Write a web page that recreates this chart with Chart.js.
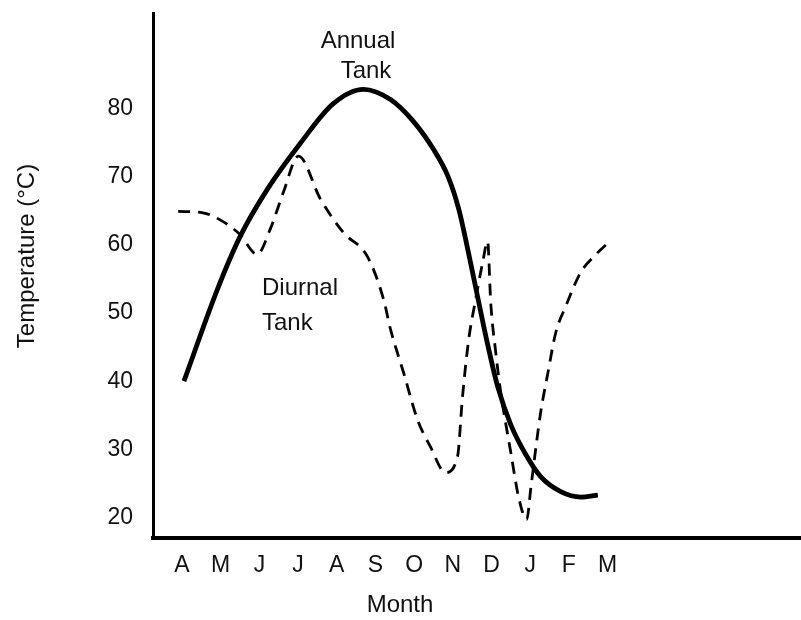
<!DOCTYPE html>
<html>
<head>
<meta charset="utf-8">
<script src="https://cdn.jsdelivr.net/npm/chart.js@4"></script>
<style>
  html, body { margin: 0; padding: 0; background: #fff; }
  #wrap { width: 801px; height: 620px; position: relative; }
</style>
</head>
<body>
<div id="wrap"><canvas id="tank-chart"></canvas></div>
<script>
// Month letters, April through March
const monthLabels = ['A', 'M', 'J', 'J', 'A', 'S', 'O', 'N', 'D', 'J', 'F', 'M'];
const tempTicks = [20, 30, 40, 50, 60, 70, 80];

// Annual tank temperature (month index, deg C)
const annualMonth = [0.05, 0.91, 1.5, 2.2, 3.06, 3.91, 4.69, 5.39, 5.98, 6.5, 6.87, 7.15,
    7.41, 7.64, 7.9, 8.16, 8.5, 8.89, 9.27, 9.79, 10.31, 10.75];
const annualTemp = [40.0, 53.4, 61.2, 68.1, 74.9, 80.7, 82.8, 81.3, 78.1, 74.0, 70.1, 65.3,
    58.7, 52.4, 45.4, 39.2, 33.6, 29.2, 26.0, 23.8, 23.0, 23.3];

// Diurnal tank temperature (month index, deg C)
const diurnalMonth = [-0.1, 0.54, 1.06, 1.5, 1.94, 2.28, 2.62, 3.01, 3.58, 4.17, 4.79, 5.21,
    5.39, 5.73, 6.09, 6.42, 6.81, 7.12, 7.25, 7.41, 7.59, 7.77, 7.9, 7.98, 8.11, 8.24, 8.5,
    8.7, 8.91, 9.02, 9.15, 9.27, 9.46, 9.66, 9.92, 10.31, 10.65, 11.01];
const diurnalTemp = [64.9, 64.7, 63.4, 61.5, 58.6, 62.3, 67.7, 73.0, 66.7, 61.8, 58.3, 52.0,
    47.6, 41.2, 34.3, 30.4, 26.6, 28.9, 37.7, 46.1, 52.0, 57.4, 60.5, 51.5, 44.2, 38.3, 29.5,
    23.0, 19.7, 24.5, 30.4, 35.4, 41.3, 47.1, 51.0, 56.0, 58.3, 60.3];

const FONT_FAMILY = '"Liberation Sans", Arial, Helvetica, sans-serif';
const INK = '#111';

function toPoints(xs, ys) {
    return xs.map((x, i) => ({ x: x, y: ys[i] }));
}

// Curve labels and axis titles, drawn straight onto the canvas
const tankLabels = {
    id: 'tankLabels',
    afterDraw(chart) {
        const ctx = chart.ctx;
        ctx.save();
        ctx.font = '24px ' + FONT_FAMILY;
        ctx.fillStyle = INK;
        ctx.textBaseline = 'middle';
        ctx.textAlign = 'center';
        ctx.fillText('Annual', 358, 41);
        ctx.fillText('Tank', 366, 71);
        ctx.fillText('Month', 400, 605);
        ctx.textAlign = 'left';
        ctx.fillText('Diurnal', 262, 288);
        ctx.fillText('Tank', 262, 323);

        ctx.translate(27, 256);
        ctx.rotate(-Math.PI / 2);
        ctx.textAlign = 'center';
        ctx.fillText('Temperature (°C)', 0, 0);
        ctx.restore();
    }
};

new Chart(document.getElementById('tank-chart').getContext('2d'), {
    type: 'line',
    data: {
        datasets: [
            {
                label: 'Annual Tank',
                data: toPoints(annualMonth, annualTemp),
                borderColor: '#000',
                borderWidth: 4.8,
                pointRadius: 0,
                cubicInterpolationMode: 'monotone',
                clip: false
            },
            {
                label: 'Diurnal Tank',
                data: toPoints(diurnalMonth, diurnalTemp),
                borderColor: '#000',
                borderWidth: 2.8,
                borderDash: [12, 8],
                pointRadius: 0,
                cubicInterpolationMode: 'monotone',
                clip: false
            }
        ]
    },
    options: {
        responsive: true,
        maintainAspectRatio: false,
        animation: false,
        layout: { padding: { top: 13, right: 0, left: 0, bottom: 0 } },
        plugins: {
            legend: { display: false },
            tooltip: { enabled: false }
        },
        scales: {
            x: {
                type: 'linear',
                min: -0.75,
                max: 16,
                afterBuildTicks: function(scale) {
                    scale.ticks = monthLabels.map((_, i) => ({ value: i }));
                },
                afterFit: function(scale) {
                    scale.height = 82;
                    scale.paddingLeft = 0;
                    scale.paddingRight = 0;
                },
                ticks: {
                    autoSkip: false,
                    maxRotation: 0,
                    padding: 14,
                    color: INK,
                    font: { family: FONT_FAMILY, size: 23 },
                    callback: function(value) { return monthLabels[value]; }
                },
                grid: { display: false, drawTicks: false },
                border: { color: '#000', width: 4 }
            },
            y: {
                type: 'linear',
                min: 17,
                max: 94,
                afterBuildTicks: function(scale) {
                    scale.ticks = tempTicks.map(v => ({ value: v }));
                },
                afterFit: function(scale) {
                    scale.width = 153;
                    scale.paddingTop = 0;
                    scale.paddingBottom = 0;
                },
                ticks: {
                    padding: 20,
                    color: INK,
                    font: { family: FONT_FAMILY, size: 23 }
                },
                grid: { display: false, drawTicks: false },
                border: { color: '#000', width: 3 }
            }
        }
    },
    plugins: [tankLabels]
});
</script>
</body>
</html>
